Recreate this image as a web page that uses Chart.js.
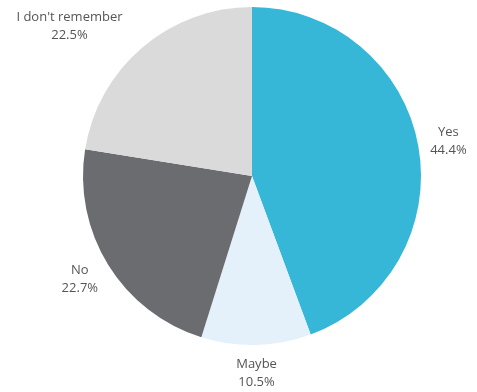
<!DOCTYPE html>
<html>
<head>
<meta charset="utf-8">
<script src="https://cdn.jsdelivr.net/npm/chart.js@4"></script>
<style>
  html, body { margin: 0; padding: 0; background: #fff; }
  #wrap { width: 477px; height: 392px; }
</style>
</head>
<body>
<div id="wrap"><canvas id="pie-Chart" width="477" height="392"></canvas></div>
<script>
const answers = ['Yes', 'Maybe', 'No', "I don't remember"];
const shares = [44.4, 10.5, 22.7, 22.5];
const shareLabels = ['44.4%', '10.5%', '22.7%', '22.5%'];
const sliceColors = ['#36b7d7', '#e4f1fa', '#6b6c6f', '#dadada'];

// labels sit just outside each slice, pushed out along its middle angle
const outsideLabels = {
    id: 'outsideLabels',
    afterDatasetsDraw(chart) {
        const ctx = chart.ctx;
        const meta = chart.getDatasetMeta(0);
        ctx.save();
        ctx.font = '13px "Open Sans", sans-serif';
        ctx.fillStyle = '#555555';
        ctx.textBaseline = 'middle';
        ctx.textAlign = 'center';
        meta.data.forEach((arc, i) => {
            const p = arc.getProps(['x', 'y', 'startAngle', 'endAngle', 'outerRadius'], true);
            const mid = (p.startAngle + p.endAngle) / 2;
            const cos = Math.cos(mid), sin = Math.sin(mid);
            const r = p.outerRadius + 12;
            const ax = p.x + cos * r;
            const ay = p.y + sin * r;
            const lines = [answers[i], shareLabels[i]];
            const w = Math.max(...lines.map(t => ctx.measureText(t).width));
            let cx = ax;
            if (cos > 0.3) cx = ax + w / 2;
            else if (cos < -0.3) cx = ax - w / 2 - (w > 60 ? 12 : 0);
            const cy = ay + 16 * sin;
            ctx.fillText(lines[0], cx, cy - 9);
            ctx.fillText(lines[1], cx, cy + 9);
        });
        ctx.restore();
    }
};

const ctx = document.getElementById('pie-Chart').getContext('2d');

const myChart = new Chart(ctx, {
    type: 'pie',
    data: {
        labels: answers,
        datasets: [{
            data: shares,
            backgroundColor: sliceColors,
            borderWidth: 0
        }]
    },
    options: {
        responsive: false,
        animation: false,
        layout: {
            padding: { top: 7, bottom: 47, left: 83, right: 56 }
        },
        plugins: {
            legend: { display: false },
            tooltip: { enabled: false }
        }
    },
    plugins: [outsideLabels]
});
</script>
</body>
</html>
